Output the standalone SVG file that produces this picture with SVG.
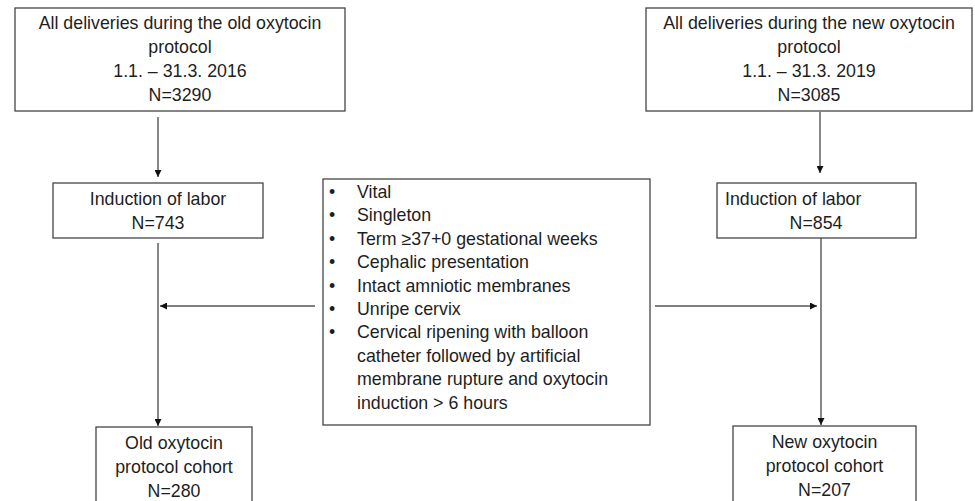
<svg xmlns="http://www.w3.org/2000/svg" width="975" height="501" viewBox="0 0 975 501">
<defs>
<style>
.box{fill:#fff;stroke:#454545;stroke-width:1.3}
.t{font-family:"Liberation Sans",Arial,sans-serif;font-size:17.8px;fill:#1e1e1e}
.c{text-anchor:middle}
.ln{stroke:#555;stroke-width:1.4;fill:none}
</style>
<marker id="ah" viewBox="0 0 10 10" refX="10" refY="5" markerWidth="7" markerHeight="7" markerUnits="userSpaceOnUse" orient="auto">
<path d="M0,0 L10,5 L0,10 Z" fill="#111"/>
</marker>
</defs>
<rect width="975" height="501" fill="#fff"/>
<g id="connectors">
<line class="ln" x1="158" y1="117" x2="158" y2="177" marker-end="url(#ah)"/>
<line class="ln" x1="820" y1="112" x2="820" y2="173" marker-end="url(#ah)"/>
<line class="ln" x1="158" y1="243" x2="158" y2="426" marker-end="url(#ah)"/>
<line class="ln" x1="821" y1="238" x2="821" y2="425" marker-end="url(#ah)"/>
<line class="ln" x1="315" y1="306" x2="160" y2="306" marker-end="url(#ah)"/>
<line class="ln" x1="655" y1="306" x2="817" y2="306" marker-end="url(#ah)"/>
</g>
<g id="old-all">
<rect class="box" x="15" y="8" width="330" height="103"/>
<text class="t c" x="180" y="29">All deliveries during the old oxytocin</text>
<text class="t c" x="180" y="53">protocol</text>
<text class="t c" x="180" y="77">1.1. – 31.3. 2016</text>
<text class="t c" x="180" y="101">N=3290</text>
</g>
<g id="new-all">
<rect class="box" x="646" y="8" width="326" height="103"/>
<text class="t c" x="809" y="29">All deliveries during the new oxytocin</text>
<text class="t c" x="809" y="53">protocol</text>
<text class="t c" x="809" y="77">1.1. – 31.3. 2019</text>
<text class="t c" x="809" y="101">N=3085</text>
</g>
<g id="old-induction">
<rect class="box" x="53" y="183" width="210" height="55"/>
<text class="t c" x="158" y="205">Induction of labor</text>
<text class="t c" x="158" y="229">N=743</text>
</g>
<g id="new-induction">
<rect class="box" x="717" y="183" width="199" height="55"/>
<text class="t" x="725" y="205">Induction of labor</text>
<text class="t c" x="816" y="229">N=854</text>
</g>
<g id="criteria">
<rect class="box" x="323" y="179" width="327" height="246"/>
<g class="t">
<text x="329" y="198">•</text><text x="357" y="198">Vital</text>
<text x="329" y="221.4">•</text><text x="357" y="221.4">Singleton</text>
<text x="329" y="244.8">•</text><text x="357" y="244.8">Term ≥37+0 gestational weeks</text>
<text x="329" y="268.2">•</text><text x="357" y="268.2">Cephalic presentation</text>
<text x="329" y="291.6">•</text><text x="357" y="291.6">Intact amniotic membranes</text>
<text x="329" y="315">•</text><text x="357" y="315">Unripe cervix</text>
<text x="329" y="338.4">•</text><text x="357" y="338.4">Cervical ripening with balloon</text>
<text x="357" y="361.8">catheter followed by artificial</text>
<text x="357" y="385.2">membrane rupture and oxytocin</text>
<text x="357" y="408.6">induction &gt; 6 hours</text>
</g>
</g>
<g id="old-cohort">
<rect class="box" x="96" y="427" width="156" height="90"/>
<text class="t c" x="174" y="449">Old oxytocin</text>
<text class="t c" x="174" y="473">protocol cohort</text>
<text class="t c" x="174" y="497">N=280</text>
</g>
<g id="new-cohort">
<rect class="box" x="733" y="426" width="183" height="90"/>
<text class="t c" x="824.5" y="448">New oxytocin</text>
<text class="t c" x="824.5" y="472">protocol cohort</text>
<text class="t c" x="824.5" y="496">N=207</text>
</g>
</svg>
